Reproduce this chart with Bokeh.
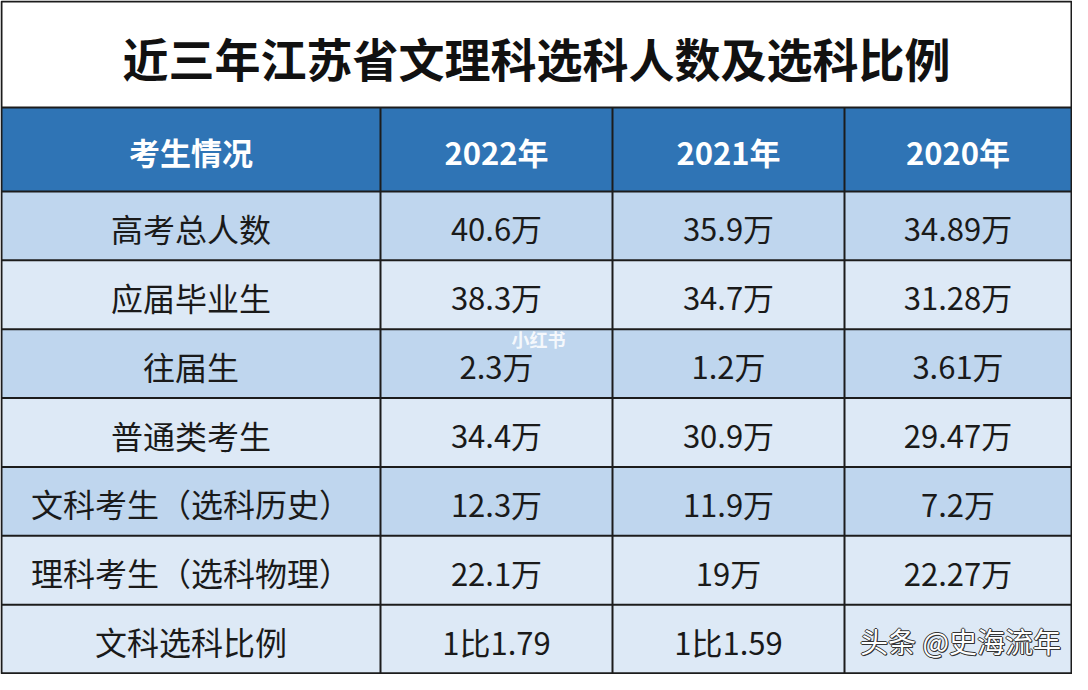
from bokeh.plotting import figure
from bokeh.models import Range1d
from bokeh.core.properties import value
from bokeh.embed import file_html
from bokeh.resources import INLINE

# ---------------- data ----------------
title = "近三年江苏省文理科选科人数及选科比例"
header_first = "考生情况"
years = ["2022年", "2021年", "2020年"]
categories = ["高考总人数", "应届毕业生", "往届生", "普通类考生",
              "文科考生（选科历史）", "理科考生（选科物理）", "文科选科比例"]
v2022 = ["40.6万", "38.3万", "2.3万", "34.4万", "12.3万", "22.1万", "1比1.79"]
v2021 = ["35.9万", "34.7万", "1.2万", "30.9万", "11.9万", "19万", "1比1.59"]
v2020 = ["34.89万", "31.28万", "3.61万", "29.47万", "7.2万", "22.27万", ""]
watermark = "头条 @史海流年"
watermark2 = "小红书"

# ---------------- layout ----------------
FONT = value("Noto Sans CJK SC")
col_edges = [9, 388, 620, 852, 1079]
top, head_top, head_bot, bottom = 9, 115, 199, 681
row_h = (bottom - head_bot) / len(categories)
row_edges = [head_bot + i * row_h for i in range(len(categories) + 1)]
dark, light = "#BFD6EE", "#DDE9F6"
row_fill = [dark, light, dark, light, dark, light, light]
line_col = "#1c1c1c"

p = figure(width=1072, height=674, x_range=Range1d(8, 1080), y_range=Range1d(682, 8),
           output_backend="svg", toolbar_location=None, min_border=0)
p.axis.visible = False
p.grid.visible = False
p.outline_line_color = None
p.background_fill_color = "white"
p.border_fill_color = "white"

# row backgrounds
p.quad(left=[col_edges[0]] * len(categories), right=[col_edges[-1]] * len(categories),
       top=row_edges[:-1], bottom=row_edges[1:], fill_color=row_fill, line_color=None)
# header
p.quad(left=[col_edges[0]], right=[col_edges[-1]], top=[head_top], bottom=[head_bot],
       fill_color="#2F74B5", line_color=None)

# horizontal lines
hy = [head_top] + row_edges
p.segment(x0=[col_edges[0]] * len(hy), x1=[col_edges[-1]] * len(hy), y0=hy, y1=hy,
          line_color=line_col, line_width=2)
# vertical lines
vx = col_edges[1:-1]
p.segment(x0=vx, x1=vx, y0=[head_top] * len(vx), y1=[bottom] * len(vx),
          line_color=line_col, line_width=2)
# outer border
p.quad(left=[col_edges[0]], right=[col_edges[-1]], top=[top], bottom=[bottom],
       fill_color=None, line_color=line_col, line_width=2)

# title
p.text(x=[(col_edges[0] + col_edges[-1]) / 2], y=[(top + head_top) / 2 + 2], text=[title],
       text_font=FONT, text_font_size="46px", text_font_style="bold",
       text_align="center", text_baseline="middle", text_color="#111111")

# header texts
col_cx = [(col_edges[i] + col_edges[i + 1]) / 2 for i in range(4)]
hy_c = (head_top + head_bot) / 2 + 2
p.text(x=col_cx, y=[hy_c] * 4, text=[header_first] + years,
       text_font=FONT, text_font_size="31px", text_font_style="bold",
       text_align="center", text_baseline="middle", text_color="white")

# body
row_cy = [(row_edges[i] + row_edges[i + 1]) / 2 + 2 for i in range(len(categories))]
p.text(x=[col_cx[0]] * len(categories), y=row_cy, text=categories,
       text_font=FONT, text_font_size="32px", text_align="center",
       text_baseline="middle", text_color="#1a1a1a")
for ci, vals in enumerate([v2022, v2021, v2020]):
    p.text(x=[col_cx[ci + 1]] * len(vals), y=row_cy, text=vals,
           text_font=FONT, text_font_size="31px", text_align="center",
           text_baseline="middle", text_color="#1a1a1a")

# watermarks
wx, wy = 968, row_cy[-1]
for dx, dy in [(-1, 0), (1, 0), (0, -1), (0, 1), (1, 1)]:
    p.text(x=[wx + dx], y=[wy + dy], text=[watermark], text_font=FONT,
           text_font_size="28px", text_align="center", text_baseline="middle",
           text_color="#333333")
p.text(x=[wx], y=[wy], text=[watermark], text_font=FONT, text_font_size="28px",
       text_align="center", text_baseline="middle", text_color="white")
p.text(x=[546], y=[346], text=[watermark2], text_font=FONT, text_font_size="18px",
       text_font_style="bold", text_align="center", text_baseline="middle",
       text_color="white", text_alpha=0.85)

open("out.html", "w").write(file_html(p, INLINE))
